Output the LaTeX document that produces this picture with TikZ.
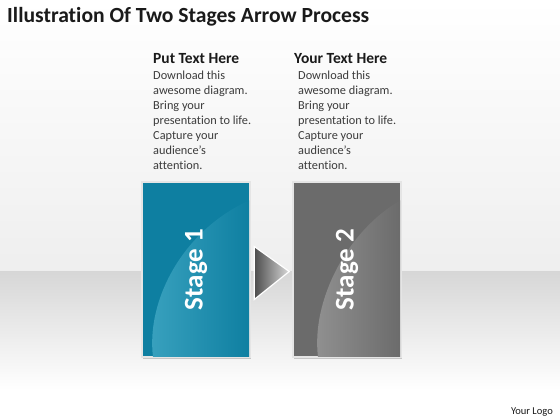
\documentclass[tikz,border=0pt]{standalone}
\usepackage{fontspec}
\setmainfont{Carlito}[Ligatures=NoCommon]
\usetikzlibrary{positioning}
\definecolor{tealbase}{HTML}{0E7FA1}
\definecolor{tealhi}{HTML}{3AA2BF}
\definecolor{greybase}{HTML}{6B6B6B}
\definecolor{greyhi}{HTML}{929292}
\definecolor{bodygrey}{HTML}{3C3C3C}
\definecolor{titleblack}{HTML}{1A1A1A}

\begin{document}
\begin{tikzpicture}[x=1pt,y=-1pt]
	\tikzset{
		stagebox/.style={draw=white!80!gray, line width=1.5pt, minimum width=107pt, minimum height=174pt, inner sep=0pt},
		stagelabel/.style={rotate=90, text=white, font=\bfseries\fontsize{27}{30}\selectfont},
		headtext/.style={anchor=base west, inner sep=0pt, text=titleblack, font=\bfseries\fontsize{15.5}{18}\selectfont},
		bodytext/.style={anchor=north west, inner sep=0pt, align=left, text=bodygrey, font=\fontsize{12.3}{15.1}\selectfont}
	}
	\useasboundingbox (0,0) rectangle (560,420);
	% background
	\shade[top color=white, bottom color=gray!13] (0,0) rectangle (560,271);
	\shade[top color=gray!32, bottom color=white] (0,271) rectangle (560,390);
	\fill[white] (0,390) rectangle (560,420);

	\node[anchor=base west, inner sep=0pt, text=titleblack, font=\bfseries\fontsize{21.6}{24}\selectfont] (title) at (7,23) {Illustration Of Two Stages Arrow Process};

	% stages
	\foreach \n/\x/\c/\base/\hi in {1/196/8/tealbase/tealhi, 2/347/22/greybase/greyhi} {
		\fill[gray!45] ({\x-53},184) rectangle ({\x+55},359);
		\node[stagebox, fill=\base] (stage\n) at (\x,269.5) {};
		\begin{scope}
			\clip ({\x-53},183) rectangle ({\x+53},356);
			\shade[left color=\hi, right color=\base] ({\x-54+\c+3},357) .. controls ({\x-54+\c-4},300) and ({\x-54+\c+33},230) .. ({\x+54},200) -- ({\x+54},357) -- cycle;
		\end{scope}
		\draw[white!80!gray, line width=1.5pt] (stage\n.north west) rectangle (stage\n.south east);
		\node[stagelabel] (label\n) at (stage\n.center) {Stage \n};
	}

	% arrow between the stages
	\draw[white, line width=1.2pt, left color=gray!60!black, right color=gray!30] ([xshift=4pt,yshift=23pt]stage1.east) -- ([xshift=-3.5pt,yshift=-2pt]stage2.west) -- ([xshift=4pt,yshift=-30pt]stage1.east) -- cycle;

	% texts
	\node[headtext] (head1) at (153,64) {Put Text Here};
	\node[bodytext] (body1) at (153,70.6) {Download this\\awesome diagram.\\Bring your\\presentation to life.\\Capture your\\audience’s\\attention.};
	\node[headtext] (head2) at (294,64) {Your Text Here};
	\node[bodytext] (body2) at (298,70.6) {Download this\\awesome diagram.\\Bring your\\presentation to life.\\Capture your\\audience’s\\attention.};

	\node[anchor=base east, inner sep=0pt, text=titleblack, font=\fontsize{10.5}{12}\selectfont] (logo) at (553,414) {Your Logo};
\end{tikzpicture}
\end{document}
